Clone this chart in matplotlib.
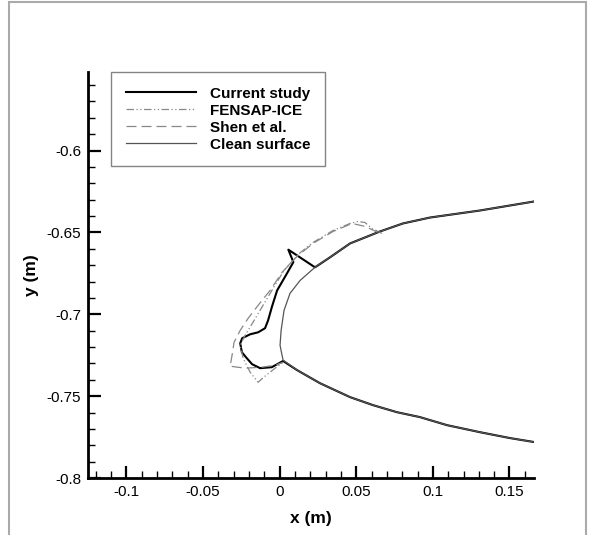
"""
Forma de gelo no bordo de ataque: comparacao entre o estudo atual,
FENSAP-ICE, Shen et al. e a superficie limpa.
"""
import matplotlib.pyplot as plt
from matplotlib.patches import Rectangle
from matplotlib.ticker import MultipleLocator, FuncFormatter

# superficie limpa (extradorso -> bordo de ataque -> intradorso)
clean_x = [0.1659, 0.1307, 0.0981, 0.0805, 0.0655, 0.0460, 0.0329, 0.0238,
           0.0134, 0.0068, 0.0029, 0.0010, 0.0003, 0.0016, 0.0023, 0.0114,
           0.0264, 0.0460, 0.0610, 0.0766, 0.0916, 0.1092, 0.1307, 0.1503,
           0.1659]
clean_y = [-0.6311, -0.6366, -0.6409, -0.6445, -0.6494, -0.6567, -0.6652,
           -0.6707, -0.6793, -0.6872, -0.6976, -0.7098, -0.7189, -0.7250,
           -0.7280, -0.7341, -0.7421, -0.7506, -0.7555, -0.7598, -0.7628,
           -0.7677, -0.7720, -0.7756, -0.7780]

# estudo atual
cur_x = [0.1659, 0.1307, 0.0981, 0.0805, 0.0655, 0.0460, 0.0329, 0.0231,
         0.0057, 0.0090, 0.0047, -0.0016, -0.0049, -0.0075, -0.0095, -0.0140,
         -0.0192, -0.0244, -0.0257, -0.0246, -0.0214, -0.0179, -0.0127,
         -0.0051, 0.0023, 0.0114, 0.0264, 0.0460, 0.0610, 0.0766, 0.0916,
         0.1092, 0.1307, 0.1503, 0.1659]
cur_y = [-0.6311, -0.6366, -0.6409, -0.6445, -0.6494, -0.6567, -0.6652,
         -0.6713, -0.6605, -0.6681, -0.6752, -0.6854, -0.6951, -0.7037,
         -0.7085, -0.7110, -0.7122, -0.7146, -0.7177, -0.7232, -0.7268,
         -0.7305, -0.7329, -0.7323, -0.7285, -0.7341, -0.7421, -0.7506,
         -0.7555, -0.7598, -0.7628, -0.7677, -0.7720, -0.7756, -0.7780]

# FENSAP-ICE (so a camada de gelo)
fen_x = [0.0668, 0.0603, 0.0557, 0.0512, 0.0460, 0.0349, 0.0218, 0.0121,
         0.0029, -0.0042, -0.0108, -0.0166, -0.0225, -0.0257, -0.0238,
         -0.0192, -0.0140, -0.0095, -0.0029, 0.0023]
fen_y = [-0.6506, -0.6476, -0.6439, -0.6433, -0.6445, -0.6488, -0.6561,
         -0.6634, -0.6732, -0.6841, -0.6945, -0.7037, -0.7128, -0.7189,
         -0.7268, -0.7354, -0.7415, -0.7378, -0.7329, -0.7293]

# Shen et al.
shen_x = [0.0642, 0.0557, 0.0473, 0.0349, 0.0218, 0.0114, 0.0016, -0.0062,
          -0.0140, -0.0205, -0.0257, -0.0297, -0.0310, -0.0323, -0.0225,
          -0.0114, -0.0029, 0.0023]
shen_y = [-0.6500, -0.6463, -0.6445, -0.6494, -0.6567, -0.6646, -0.6744,
          -0.6854, -0.6945, -0.7024, -0.7098, -0.7171, -0.7250, -0.7317,
          -0.7329, -0.7323, -0.7311, -0.7293]

x_ticks = [-0.1, -0.05, 0, 0.05, 0.1, 0.15]
y_ticks = [-0.8, -0.75, -0.7, -0.65, -0.6]


def _fmt(v, pos):
    return f"{v:g}"


def main() -> None:
    plt.rcParams.update({'font.family': ['Liberation Sans', 'DejaVu Sans'],
                         'axes.unicode_minus': False})
    fig = plt.figure(figsize=(5.95, 5.35), dpi=100)
    fig.patches.append(Rectangle((9 / 595, -0.01), 577 / 595, 1.01 - 2 / 535,
                                 transform=fig.transFigure, fill=False,
                                 ec='#aaaaaa', lw=1.5))
    ax = fig.add_axes([0.1479, 0.1065, 0.7496, 0.7589])

    ax.plot(cur_x, cur_y, color='black', lw=1.5, label='Current study')
    ax.plot(fen_x, fen_y, color='#888888', lw=0.9,
            dashes=[6, 2, 1, 2, 1, 2], label='FENSAP-ICE')
    ax.plot(shen_x, shen_y, color='#888888', lw=0.9, dashes=[8, 4],
            label='Shen et al.')
    ax.plot(clean_x, clean_y, color='#555555', lw=0.9, label='Clean surface')

    ax.set_xlim(-0.125, 0.166)
    ax.set_ylim(-0.8, -0.552)
    ax.set_xticks(x_ticks)
    ax.set_yticks(y_ticks)
    ax.xaxis.set_minor_locator(MultipleLocator(0.01))
    ax.yaxis.set_minor_locator(MultipleLocator(0.01))
    ax.xaxis.set_major_formatter(FuncFormatter(_fmt))
    ax.yaxis.set_major_formatter(FuncFormatter(_fmt))
    ax.tick_params(which='major', direction='in', length=9, width=1.6,
                   labelsize=11, pad=5)
    ax.tick_params(which='minor', direction='in', length=5, width=1)
    ax.tick_params(top=False, right=False, which='both')
    for side in ('top', 'right'):
        ax.spines[side].set_visible(False)
    for side in ('left', 'bottom'):
        ax.spines[side].set_linewidth(2)

    ax.set_xlabel('x (m)', fontsize=12.5, fontweight='bold', labelpad=9)
    ax.set_ylabel('y (m)', fontsize=12.5, fontweight='bold', labelpad=5)

    leg = ax.legend(loc='upper left', bbox_to_anchor=(0.0516, 1.0),
                    borderaxespad=0, fancybox=False, handlelength=4.6,
                    handletextpad=0.95, labelspacing=0.2, borderpad=0.95,
                    prop={'weight': 'bold', 'size': 11})
    leg.get_frame().set_edgecolor('#666666')
    leg.get_frame().set_linewidth(1.0)

    fig.savefig('out.png', dpi=100)
    plt.close(fig)


if __name__ == '__main__':
    main()
